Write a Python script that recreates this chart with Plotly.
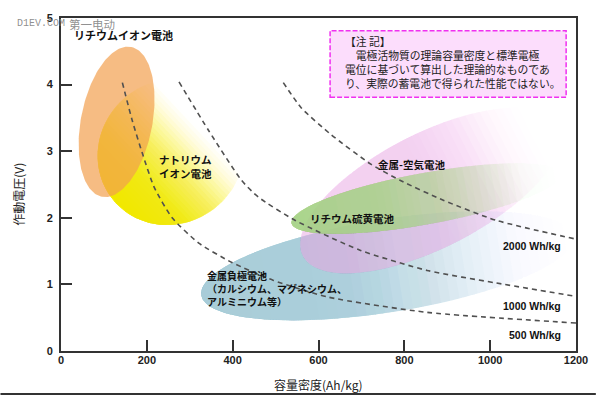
import numpy as np
import plotly.graph_objects as go

# ---------------- data ----------------
capacity_ticks = [0, 200, 400, 600, 800, 1000, 1200]
voltage_ticks = [0, 1, 2, 3, 4, 5]

# iso specific-energy curves
e500_capacity = [143, 166, 190, 217, 259, 321, 398, 495, 622, 853, 1200]
e500_voltage = [4.03, 3.46, 2.96, 2.46, 2.00, 1.62, 1.33, 1.06, 0.81, 0.58, 0.42]
e1000_capacity = [275, 344, 421, 460, 546, 698, 853, 1015, 1200]
e1000_voltage = [4.04, 3.31, 2.56, 2.31, 1.96, 1.51, 1.21, 1.02, 0.82]
e2000_capacity = [518, 560, 629, 721, 791, 892, 1015, 1200]
e2000_voltage = [4.03, 3.65, 3.25, 2.81, 2.56, 2.26, 1.96, 1.68]

energy_labels = ["2000 Wh/kg", "1000 Wh/kg", "500 Wh/kg"]

# battery regions (centre in Ah/kg, V)
region_names = ["金属負極電池", "金属-空気電池", "リチウム硫黄電池", "ナトリウムイオン電池", "リチウムイオン電池"]
region_capacity = [760.7, 862.0, 851.0, 256.6, 129.5]
region_voltage = [1.28, 2.41, 2.29, 2.99, 3.44]

# ---------------- geometry / style ----------------
W, H = 600, 396
ML, MR, MT, MB = 61, 20, 15, 45
PW, PH = W - ML - MR, H - MT - MB
XMAX, YMAX = 1200, 5
KX, KY = PW / XMAX, PH / YMAX

# semi-axes (px), rotation (deg), colour, gradient direction (deg), opacity stops
region_style = [
    dict(a=190, b=47, rot=9, rgb=(168, 211, 221), gdir=9,
         stops=[(0, 0.95), (0.4, 0.85), (0.55, 0.6), (0.7, 0.3), (0.85, 0.07), (1, 0)]),
    dict(a=145, b=58, rot=27, rgb=(242, 180, 236), gdir=27,
         stops=[(0, 0.55), (0.5, 0.55), (0.65, 0.38), (0.8, 0.1), (0.9, 0.0), (1, 0)]),
    dict(a=138, b=26, rot=10.4, rgb=(178, 214, 140), gdir=10.4,
         stops=[(0, 0.95), (0.35, 0.85), (0.55, 0.6), (0.72, 0.3), (0.85, 0.07), (1, 0)]),
    dict(a=76, b=72, rot=43, rgb=(246, 238, 0), gdir=43,
         stops=[(0, 0.98), (0.25, 0.9), (0.45, 0.6), (0.55, 0.38), (0.65, 0.15), (0.74, 0.02), (1, 0)]),
    dict(a=77, b=36, rot=79, rgb=(242, 160, 78), gdir=None, alpha=0.7),
]


def ellipse_pts(cx, cy, a, b, rot, n=200):
    t = np.linspace(0, 2 * np.pi, n, endpoint=False)
    r = np.radians(rot)
    x = a * np.cos(t)
    y = b * np.sin(t)
    return np.column_stack([cx + x * np.cos(r) - y * np.sin(r),
                            cy + x * np.sin(r) + y * np.cos(r)])


def clip(pts, d, tmax):
    out = []
    n = len(pts)
    for i in range(n):
        p, q = pts[i], pts[(i + 1) % n]
        tp, tq = p @ d, q @ d
        if tp <= tmax:
            out.append(p)
        if (tp <= tmax) != (tq <= tmax):
            s = (tmax - tp) / (tq - tp)
            out.append(p + s * (q - p))
    return np.array(out)


fig = go.Figure()


def add_poly(poly, rgb, alpha):
    poly = np.vstack([poly, poly[:1]])
    fig.add_trace(go.Scatter(
        x=poly[:, 0] / KX, y=poly[:, 1] / KY, mode="lines", fill="toself",
        line=dict(width=0), fillcolor=f"rgba({rgb[0]},{rgb[1]},{rgb[2]},{alpha:.4f})",
        hoverinfo="skip", showlegend=False))


NL = 40
for c, v, st in zip(region_capacity, region_voltage, region_style):
    pts = ellipse_pts(c * KX, v * KY, st["a"], st["b"], st["rot"])
    if st["gdir"] is None:
        add_poly(pts, st["rgb"], st["alpha"])
        continue
    g = np.radians(st["gdir"])
    d = np.array([np.cos(g), np.sin(g)])
    tv = pts @ d
    t0, t1 = tv.min(), tv.max()
    fr = [s[0] for s in st["stops"]]
    op = [s[1] for s in st["stops"]]
    O = [min(0.99, float(np.interp((j + 0.5) / NL, fr, op))) for j in range(NL)] + [0.0]
    for j in range(NL):
        alpha = 1 - (1 - O[j]) / (1 - O[j + 1])
        if alpha < 0.002:
            continue
        tk = t0 + (j + 1) / NL * (t1 - t0)
        poly = clip(pts, d, tk)
        if len(poly) < 3:
            continue
        add_poly(poly, st["rgb"], alpha)

# iso-energy dashed curves
for xs, ys in [(e500_capacity, e500_voltage), (e1000_capacity, e1000_voltage), (e2000_capacity, e2000_voltage)]:
    fig.add_trace(go.Scatter(x=xs, y=ys, mode="lines",
                             line=dict(color="#505050", width=1.6, dash="5px,4px", shape="spline", smoothing=0.6),
                             hoverinfo="skip", showlegend=False))

JP = "Noto Sans CJK JP"
LAT = "Liberation Sans"
ann = []


def label(x, y, text, size=10.5, anchor="left", bold=True, family=JP, color="#111"):
    ann.append(dict(x=x, y=y, xref="x", yref="y", text=f"<b>{text}</b>" if bold else text,
                    showarrow=False, xanchor=anchor, yanchor="middle", align="left",
                    font=dict(family=family, size=size, color=color)))


label(25, 4.74, "リチウムイオン電池", size=11)
label(224, 2.775, "ナトリウム<br>イオン電池", size=10.5)
label(733, 2.80, "金属-空気電池")
label(576, 1.99, "リチウム硫黄電池")
label(336, 0.94, "金属負極電池<br>（カルシウム、マグネシウム、<br>アルミニウム等）", size=10)
for txt, vy in zip(energy_labels, [1.58, 0.67, 0.24]):
    label(1170, vy, txt, size=10.5, anchor="right", family=LAT)

# note box
note_text = "【注 記】<br>　電極活物質の理論容量密度と標準電極<br>電位に基づいて算出した理論的なものであ<br>り、実際の蓄電池で得られた性能ではない。"
label(657, 4.345, note_text, size=10.8, bold=False, color="#222")

# axis titles and watermark
ann.append(dict(x=0.5, y=-0.101, xref="paper", yref="paper", text="容量密度(Ah/kg)", showarrow=False,
                xanchor="center", yanchor="middle", font=dict(family=JP, size=12, color="#222")))
ann.append(dict(x=-0.083, y=0.47, xref="paper", yref="paper", text="作動電圧(V)", showarrow=False,
                textangle=-90, xanchor="center", yanchor="middle", font=dict(family=JP, size=12, color="#222")))
ann.append(dict(x=(15 - ML) / PW, y=0.982, xref="paper", yref="paper", text="D1EV.COM", showarrow=False,
                xanchor="left", yanchor="middle",
                font=dict(family="Liberation Mono", size=10, color="rgba(130,130,130,0.9)")))
ann.append(dict(x=(67 - ML) / PW, y=0.982, xref="paper", yref="paper", text="第一电动", showarrow=False,
                xanchor="left", yanchor="middle",
                font=dict(family="Noto Sans CJK SC", size=11.5, color="rgba(130,130,130,0.9)")))

shapes = [
    dict(type="rect", xref="x", yref="y", x0=627, x1=1177, y0=3.81, y1=4.807,
         fillcolor="#FCDDFC", line=dict(color="#F030F0", width=1.5, dash="5px,2px"), layer="above"),
    dict(type="line", xref="paper", yref="paper", x0=-ML / PW, x1=(W - ML) / PW,
         y0=-(H - MT - PH - 1.5) / PH, y1=-(H - MT - PH - 1.5) / PH, line=dict(color="#333", width=2)),
]
fig.update_layout(
    width=W, height=H, margin=dict(l=ML, r=MR, t=MT, b=MB),
    paper_bgcolor="white", plot_bgcolor="white",
    shapes=shapes, annotations=ann, showlegend=False,
    xaxis=dict(range=[0, XMAX], tickvals=capacity_ticks, ticktext=[f"<b>{v}</b>" for v in capacity_ticks],
               ticks="inside", ticklen=11, tickwidth=2, tickcolor="#333", showline=True, linewidth=2,
               linecolor="#333", mirror=True, showgrid=False, zeroline=False, ticklabelstandoff=-2,
               tickfont=dict(family=LAT, size=11, color="#222")),
    yaxis=dict(range=[0, YMAX], tickvals=voltage_ticks, ticktext=[f"<b>{v}</b>" for v in voltage_ticks],
               ticks="inside", ticklen=11, tickwidth=2, tickcolor="#333", showline=True, linewidth=2,
               linecolor="#333", mirror=True, showgrid=False, zeroline=False, ticklabelstandoff=4,
               tickfont=dict(family=LAT, size=11, color="#222")),
)

fig.write_html("out.html", config={"displayModeBar": False},
               post_script="document.body.style.margin='0px';document.body.style.overflow='hidden';")
